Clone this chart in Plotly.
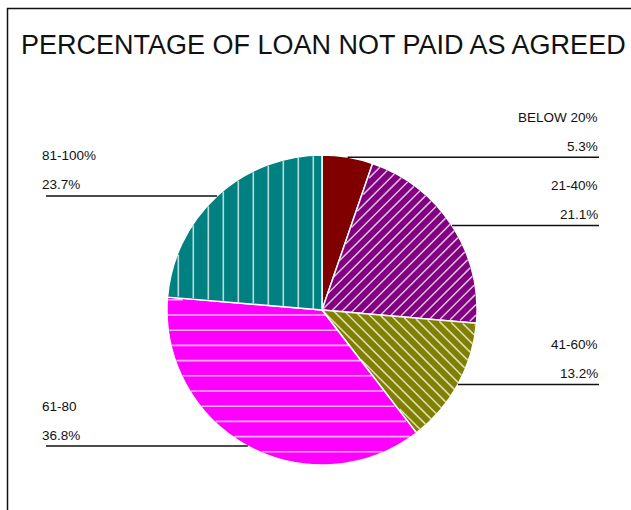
import math
import plotly.graph_objects as go

# Share of borrowers by percentage of loan not repaid as agreed
categories = ["BELOW 20%", "21-40%", "41-60%", "61-80", "81-100%"]
shares = [5.3, 21.1, 13.2, 36.8, 23.7]
colors = ["#800000", "#800080", "#808000", "#FF00FF", "#008080"]
# hatch style per slice: (line direction in degrees, spacing in px, offset), None = solid
hatches = [None, (45, 7.5, 0), (-45, 7.5, 0), (0, 15.2, 5), (90, 15, -8.7)]

W, H = 631, 510
CX, CY, R = 322, 310, 155  # pie centre and radius in pixels


def px(x):
    return x / W


def py(y):
    return 1 - y / H


def cross(a, b):
    return a[0] * b[1] - a[1] * b[0]


def hatch_path(a0, a1, angle_deg, spacing, offset):
    """Parallel hatch lines clipped to the wedge between angles a0..a1
    (radians, clockwise from 12 o'clock, screen coordinates)."""
    th = math.radians(angle_deg)
    d = (math.cos(th), -math.sin(th))      # line direction (screen, y down)
    n = (-d[1], d[0])                       # normal
    v0 = (math.sin(a0), -math.cos(a0))
    v1 = (math.sin(a1), -math.cos(a1))
    r_in = R - 1.0
    parts = []
    k_min = math.floor((-r_in - offset) / spacing)
    k_max = math.ceil((r_in - offset) / spacing)
    for k in range(k_min, k_max + 1):
        t = offset + k * spacing
        if abs(t) >= r_in:
            continue
        h = math.sqrt(r_in * r_in - t * t)
        lo, hi = -h, h
        q0 = (t * n[0], t * n[1])
        # half-plane constraints: cross(v0, q) >= 0 and cross(q, v1) >= 0
        for c0, c1 in ((cross(v0, q0), cross(v0, d)),
                       (cross(q0, v1), cross(d, v1))):
            if abs(c1) < 1e-12:
                if c0 < 0:
                    lo, hi = 1, 0
                continue
            u = -c0 / c1
            if c1 > 0:
                lo = max(lo, u)
            else:
                hi = min(hi, u)
        if hi - lo < 0.5:
            continue
        xa, ya = CX + q0[0] + lo * d[0], CY + q0[1] + lo * d[1]
        xb, yb = CX + q0[0] + hi * d[0], CY + q0[1] + hi * d[1]
        parts.append(f"M{px(xa):.5f},{py(ya):.5f}L{px(xb):.5f},{py(yb):.5f}")
    return "".join(parts)


fig = go.Figure(
    go.Pie(
        labels=categories,
        values=shares,
        sort=False,
        direction="clockwise",
        rotation=0,
        textinfo="none",
        hoverinfo="label+percent",
        showlegend=False,
        domain=dict(x=[px(CX - R), px(CX + R)], y=[py(CY + R), py(CY - R)]),
        marker=dict(colors=colors, line=dict(color="white", width=1.5)),
    )
)

shapes = []
annotations = []

total = sum(shares)
edges = []
cum = 0.0
for val in shares:
    a0 = cum / total * 2 * math.pi
    cum += val
    edges.append((a0, cum / total * 2 * math.pi))

# hatching
for (a0, a1), hatch in zip(edges, hatches):
    if hatch is None:
        continue
    path = hatch_path(a0 + 0.01, a1 - 0.01, *hatch)
    if path:
        shapes.append(dict(type="path", xref="paper", yref="paper", path=path,
                           line=dict(color="rgba(255,255,255,0.72)", width=1.6)))

# chart frame
shapes.append(dict(type="rect", xref="paper", yref="paper",
                   x0=px(7.5), x1=px(W + 20), y0=py(H + 20), y1=py(8.5),
                   line=dict(color="#111", width=1.5), fillcolor="rgba(0,0,0,0)"))

# leader lines and two-line labels
RIGHT_X, LEFT_X = 599, 46
for cat, val, (a0, a1) in zip(categories, shares, edges):
    mid = (a0 + a1) / 2
    ax = CX + R * math.sin(mid)
    ay = CY - R * math.cos(mid)
    right = math.sin(mid) > 0
    x_end = RIGHT_X if right else LEFT_X
    shapes.append(dict(type="line", xref="paper", yref="paper",
                       x0=px(ax), x1=px(x_end), y0=py(ay), y1=py(ay),
                       line=dict(color="#111", width=1.5)))
    tx = x_end + 1 if right else x_end - 6
    anchor = "right" if right else "left"
    for text, dy in ((cat, 40), (f"{val:.1f}%", 11)):
        annotations.append(dict(
            x=px(tx), y=py(ay - dy), xref="paper", yref="paper",
            text=text, showarrow=False, xanchor=anchor, yanchor="middle",
            font=dict(family="Liberation Sans, Arial, sans-serif", size=13.5, color="#111"),
        ))

annotations.append(dict(
    x=px(323), y=py(45), xref="paper", yref="paper",
    text="PERCENTAGE OF LOAN NOT PAID AS AGREED", showarrow=False,
    xanchor="center", yanchor="middle",
    font=dict(family="Liberation Sans, Arial, sans-serif", size=27, color="#111"),
))

fig.update_layout(
    width=W, height=H,
    margin=dict(l=0, r=0, t=0, b=0),
    paper_bgcolor="white",
    plot_bgcolor="white",
    shapes=shapes,
    annotations=annotations,
)

fig.write_html("out.html")
